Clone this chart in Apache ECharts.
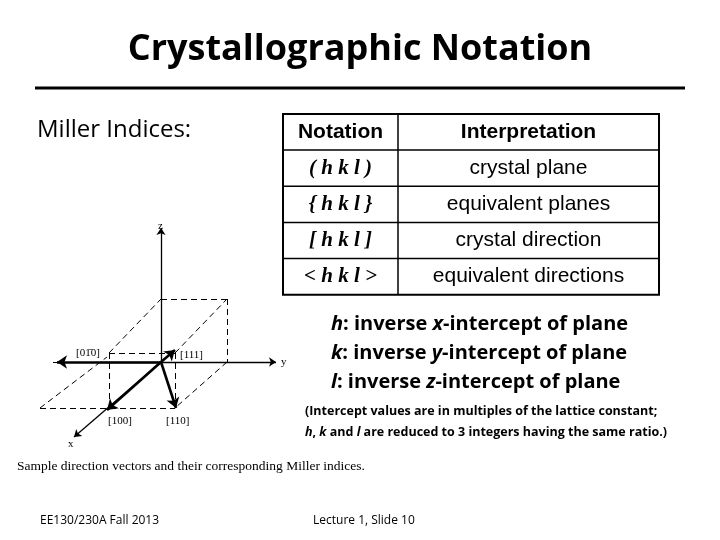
<!DOCTYPE html>
<html>
<head>
<meta charset="utf-8">
<script src="https://cdn.jsdelivr.net/npm/echarts@6/dist/echarts.min.js"></script>
<style>html,body{margin:0;background:#fff}#c{width:720px;height:540px}</style>
</head>
<body>
<div id="c"></div>
<script>
// table content
var notations = ['( h k l )', '{ h k l }', '[ h k l ]', '< h k l >'];
var interpretations = ['crystal plane', 'equivalent planes', 'crystal direction', 'equivalent directions'];
var defs = [
  ['h', ': inverse ', 'x', '-intercept of plane'],
  ['k', ': inverse ', 'y', '-intercept of plane'],
  ['l', ': inverse ', 'z', '-intercept of plane']
];
// figure (slide pixel coords)
var dashedEdges = [
  [[161,299],[227,299]], [[109,353],[175,353]], [[109,353],[161,299]], [[175,353],[227,299]],
  [[109,353],[109,408]], [[175,353],[175,408]], [[227,299],[227,362]], [[227,362],[175,408]],
  [[40,408],[175,408]], [[40,408],[107,357]], [[53,362],[100,362]]
];
var axesLines = [ [[161,362],[161,228]], [[100,362],[276,362]], [[161,362],[74,437]] ];
var vectors = [ [[161,362],[175,350]], [[161,362],[57,362]], [[161,362],[107,410]], [[161,362],[176,408]] ];
var vecLabels = [['[111]',180,355],['[01\u03040]',76,353],['[100]',108,421],['[110]',166,421],['z',158,226],['y',281,362],['x',68,444]];

var chart = echarts.init(document.getElementById('c'));
var g = [];
g.push({type:'text',style:{text:'Crystallographic Notation',x:360,y:50,align:'center',verticalAlign:'middle',font:'bold 36px "Open Sans"',fill:'#000'}});
g.push({type:'line',shape:{x1:35,y1:88,x2:685,y2:88},style:{stroke:'#000',lineWidth:3}});
g.push({type:'text',style:{text:'Miller Indices:',x:37,y:130,verticalAlign:'middle',font:'24px "Open Sans"',fill:'#000'}});
// table
var tx0 = 283, tx1 = 398, tx2 = 659, ty0 = 114, rowH = 36.2, hdrH = 36;
g.push({type:'rect',shape:{x:tx0,y:ty0,width:tx2-tx0,height:hdrH+rowH*4},style:{fill:'none',stroke:'#000',lineWidth:2}});
g.push({type:'line',shape:{x1:tx1,y1:ty0,x2:tx1,y2:ty0+hdrH+rowH*4},style:{stroke:'#000',lineWidth:1.5}});
for (var i = 0; i < 4; i++) {
  var yl = ty0 + hdrH + rowH * i;
  g.push({type:'line',shape:{x1:tx0,y1:yl,x2:tx2,y2:yl},style:{stroke:'#000',lineWidth:1.5}});
}
g.push({type:'text',style:{text:'Notation',x:(tx0+tx1)/2,y:ty0+hdrH/2,align:'center',verticalAlign:'middle',font:'bold 21px "Liberation Sans"',fill:'#000'}});
g.push({type:'text',style:{text:'Interpretation',x:(tx1+tx2)/2,y:ty0+hdrH/2,align:'center',verticalAlign:'middle',font:'bold 21px "Liberation Sans"',fill:'#000'}});
notations.forEach(function (n, i) {
  var yc = ty0 + hdrH + rowH * i + rowH / 2;
  g.push({type:'text',style:{text:n,x:(tx0+tx1)/2,y:yc,align:'center',verticalAlign:'middle',font:'italic bold 21px "Liberation Serif"',fill:'#000'}});
  g.push({type:'text',style:{text:interpretations[i],x:(tx1+tx2)/2,y:yc,align:'center',verticalAlign:'middle',font:'21px "Liberation Sans"',fill:'#000'}});
});
// definitions
defs.forEach(function (d, i) {
  g.push({type:'text',style:{x:331,y:324+29*i,verticalAlign:'middle',
    text:'{i|'+d[0]+'}{n|'+d[1]+'}{i|'+d[2]+'}{n|'+d[3]+'}',
    rich:{i:{font:'italic bold 20px "Open Sans"',fill:'#000'},n:{font:'bold 20px "Open Sans"',fill:'#000'}}}});
});
g.push({type:'text',style:{x:305,y:411,verticalAlign:'middle',text:'(Intercept values are in multiples of the lattice constant;',font:'bold 12.5px "Open Sans"',fill:'#000'}});
g.push({type:'text',style:{x:305,y:432,verticalAlign:'middle',
  text:'{i|h}{n|, }{i|k}{n| and }{i|l}{n| are reduced to 3 integers having the same ratio.)}',
  rich:{i:{font:'italic bold 12.5px "Open Sans"',fill:'#000'},n:{font:'bold 12.5px "Open Sans"',fill:'#000'}}}});
vecLabels.forEach(function (v) {
  g.push({type:'text',style:{text:v[0],x:v[1],y:v[2],verticalAlign:'middle',font:'11px "Liberation Serif"',fill:'#000'}});
});
g.push({type:'text',style:{text:'Sample direction vectors and their corresponding Miller indices.',x:17,y:466,verticalAlign:'middle',font:'13.5px "Liberation Serif"',fill:'#000'}});
g.push({type:'text',style:{text:'EE130/230A Fall 2013',x:40,y:521,verticalAlign:'middle',font:'12px "Open Sans"',fill:'#000'}});
g.push({type:'text',style:{text:'Lecture 1, Slide 10',x:313,y:521,verticalAlign:'middle',font:'12px "Open Sans"',fill:'#000'}});

function seg(list) { return list.map(function (s) { return {coords: s}; }); }

chart.setOption({
  animation: false,
  grid: {left:0, right:0, top:0, bottom:0},
  xAxis: {type:'value', min:0, max:720, show:false},
  yAxis: {type:'value', min:0, max:540, inverse:true, show:false},
  series: [
    {type:'lines', coordinateSystem:'cartesian2d', data:seg(dashedEdges), symbol:'none',
     lineStyle:{color:'#000', width:1, type:[6,4], opacity:1}},
    {type:'lines', coordinateSystem:'cartesian2d', data:seg(axesLines), symbol:['none','arrow'], symbolSize:7,
     lineStyle:{color:'#000', width:1.3, opacity:1}},
    {type:'lines', coordinateSystem:'cartesian2d', data:seg(vectors), symbol:['none','arrow'], symbolSize:10,
     lineStyle:{color:'#000', width:2.6, opacity:1}}
  ],
  graphic: g
});
</script>
</body>
</html>
